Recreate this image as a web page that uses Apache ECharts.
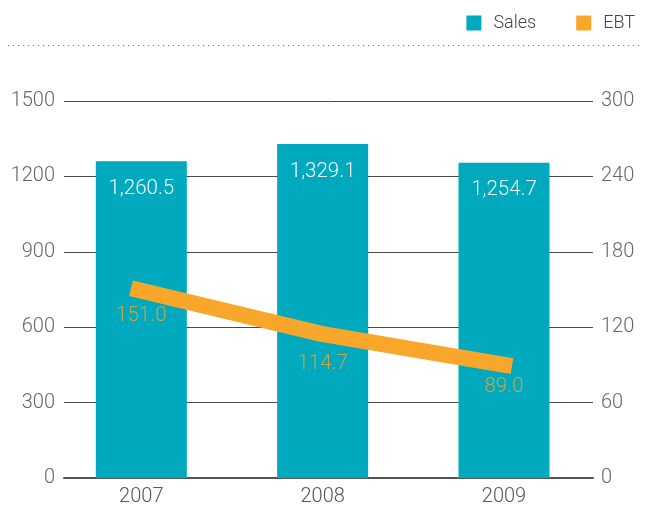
<!DOCTYPE html>
<html>
<head>
<meta charset="utf-8">
<script src="https://cdn.jsdelivr.net/npm/echarts@6/dist/echarts.min.js"></script>
<style>
  html, body { margin: 0; padding: 0; background: #ffffff; }
  #chart { width: 654px; height: 508px; }
</style>
</head>
<body>
<div id="chart"></div>
<script>
// Chart data
const years = ['2007', '2008', '2009'];
const sales = [1260.5, 1329.1, 1254.7];
const ebt = [151.0, 114.7, 89.0];
const salesTicks = [0, 300, 600, 900, 1200, 1500];
const ebtTicks = [0, 60, 120, 180, 240, 300];

// Layout constants
const FONT = 'Roboto, "Liberation Sans", sans-serif';
const TEAL = '#00A9BD';
const ORANGE = '#F9A72B';
const ebtLabelDrop = [28, 30, 21];

const fmt = v => v.toLocaleString('en-US', { minimumFractionDigits: 1, maximumFractionDigits: 1 });

const chart = echarts.init(document.getElementById('chart'), null, { renderer: 'canvas' });

const option = {
  animation: false,
  backgroundColor: '#ffffff',
  textStyle: { fontFamily: FONT },
  legend: {
    right: 14,
    top: 9,
    itemWidth: 15,
    itemHeight: 15,
    itemGap: 40,
    icon: 'rect',
    data: ['Sales', 'EBT'],
    textStyle: { fontFamily: FONT, fontWeight: 300, fontSize: 18, color: '#444', padding: [0, 0, 0, 7] }
  },
  graphic: [{
    type: 'line',
    shape: { x1: 8, y1: 45.5, x2: 642, y2: 45.5 },
    style: { stroke: '#777', lineWidth: 1.2, lineDash: [1.2, 3.8] },
    silent: true
  }],
  grid: { left: 64, right: 61, top: 101, bottom: 30 },
  xAxis: [{
    type: 'value',
    min: -0.4263,
    max: 2.4908,
    splitLine: { show: false },
    axisTick: { show: false },
    axisLine: { show: true, onZero: false, lineStyle: { color: '#555', width: 2 } },
    axisLabel: {
      customValues: years.map((_, i) => i),
      formatter: v => years[Math.round(v)],
      margin: 9,
      fontFamily: FONT, fontWeight: 300, fontSize: 20, color: '#555'
    }
  }, {
    // separate horizontal scale for the EBT trend line
    type: 'value',
    show: false,
    min: -0.3517,
    max: 2.4252,
    splitLine: { show: false }
  }],
  yAxis: [{
    type: 'value',
    min: salesTicks[0],
    max: salesTicks[salesTicks.length - 1],
    interval: salesTicks[1] - salesTicks[0],
    axisLine: { show: false },
    axisTick: { show: false },
    splitLine: { lineStyle: { color: '#4a4a4a', width: 1 } },
    axisLabel: {
      margin: 9, fontFamily: FONT, fontWeight: 300, fontSize: 20, color: '#666',
      formatter: v => String(v)
    }
  }, {
    type: 'value',
    min: ebtTicks[0],
    max: ebtTicks[ebtTicks.length - 1],
    interval: ebtTicks[1] - ebtTicks[0],
    axisLine: { show: false },
    axisTick: { show: false },
    splitLine: { show: false },
    axisLabel: {
      margin: 8, fontFamily: FONT, fontWeight: 300, fontSize: 20, color: '#666',
      formatter: v => String(v)
    }
  }],
  series: [{
    name: 'Sales',
    type: 'bar',
    xAxisIndex: 0,
    yAxisIndex: 0,
    barWidth: 91,
    itemStyle: { color: TEAL },
    label: {
      show: true,
      position: 'insideTop',
      distance: 17,
      fontFamily: FONT, fontWeight: 300, fontSize: 20.5,
      color: '#f4fbfc',
      formatter: p => fmt(p.value[1])
    },
    data: sales.map((v, i) => [i, v]),
    z: 2
  }, {
    name: 'EBT',
    type: 'line',
    xAxisIndex: 1,
    yAxisIndex: 1,
    symbol: 'none',
    lineStyle: { color: ORANGE, width: 16, cap: 'butt', join: 'round' },
    itemStyle: { color: ORANGE },
    data: ebt.map((v, i) => [i, v]),
    z: 3
  }, {
    name: 'EBT',
    type: 'scatter',
    xAxisIndex: 0,
    yAxisIndex: 1,
    symbolSize: 0,
    itemStyle: { color: ORANGE },
    label: {
      show: true,
      position: 'inside',
      fontFamily: FONT, fontWeight: 300, fontSize: 20.5,
      color: '#F7A82A',
      formatter: p => fmt(p.value[1])
    },
    data: ebt.map((v, i) => ({ value: [i, v], label: { offset: [0, ebtLabelDrop[i]] } })),
    z: 4
  }]
};

chart.setOption(option);
</script>
</body>
</html>
